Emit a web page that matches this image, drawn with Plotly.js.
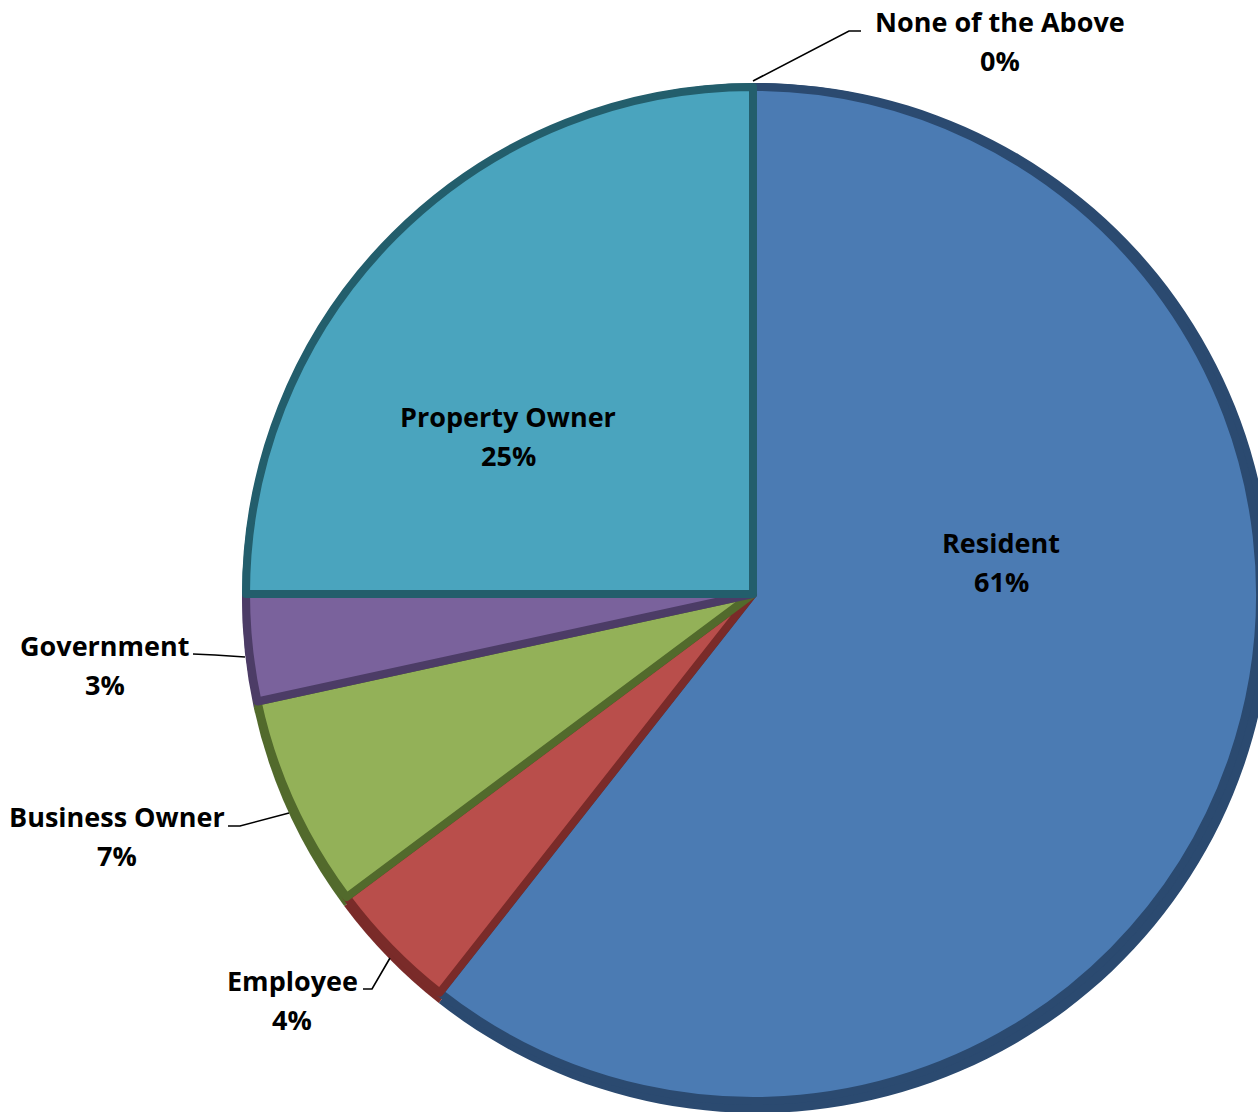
<!DOCTYPE html>
<html>
<head>
<meta charset="utf-8">
<script src="https://cdn.plot.ly/plotly-3.0.1.min.js"></script>
<style>
  html, body { margin: 0; padding: 0; overflow: hidden; background: #ffffff; }
  #chart { width: 1290px; height: 1130px; }
</style>
</head>
<body>
<div id="chart"></div>
<script>
// ---- data ----
const categories = ["Resident", "Employee", "Business Owner", "Government", "Property Owner", "None of the Above"];
const shares = [60.6, 4.2, 6.8, 3.4, 25.0, 0.0];
const mainColors = ["#4B7BB3", "#B94E4B", "#93B158", "#7A629C", "#4AA4BE", "#F79646"];
const darkColors = ["#2B4A70", "#7A2B29", "#526A2C", "#4C3C66", "#235E6C", "#A45F25"];

// ---- layout helpers (pixel -> paper) ----
const W = 1290, H = 1130;
const fx = x => x / W;
const fy = y => 1 - y / H;

const total = shares.reduce((a, b) => a + b, 0);
const pctText = shares.map(v => Math.round(v / total * 100) + "%");

// base (dark bevel) pie: centre (757,598), r 515
const cx = 757, cy = 598, R = 515;
// face pie: shifted up-left, slightly smaller
const off = 4, r2 = 507;

const basePie = {
  type: "pie",
  labels: categories,
  values: shares,
  sort: false,
  direction: "clockwise",
  rotation: 0,
  textinfo: "none",
  hoverinfo: "skip",
  showlegend: false,
  marker: { colors: darkColors, line: { width: 0 } },
  domain: { x: [fx(cx - R), fx(cx + R)], y: [fy(cy + R), fy(cy - R)] }
};

const facePie = {
  type: "pie",
  labels: categories,
  values: shares,
  sort: false,
  direction: "clockwise",
  rotation: 0,
  textinfo: "none",
  hoverinfo: "skip",
  showlegend: false,
  marker: {
    colors: mainColors,
    line: { color: darkColors, width: shares.map(v => v > 0 ? 8 : 0) }
  },
  domain: { x: [fx(cx - off - r2), fx(cx - off + r2)], y: [fy(cy - off + r2), fy(cy - off - r2)] }
};

// label positions (pixel centres of the two text lines)
const labelPos = [
  [1001, 542],  // Resident
  [292, 980],   // Employee
  [117, 816],   // Business Owner
  [105, 645],   // Government
  [508, 416],   // Property Owner
  [1000, 22]    // None of the Above
];
const lineGap = 39;
const font = { family: "'Open Sans', sans-serif", size: 27, color: "#000000", weight: 700 };

const annotations = [];
categories.forEach((c, i) => {
  const [x, y] = labelPos[i];
  annotations.push({ xref: "paper", yref: "paper", x: fx(x), y: fy(y), text: "<b>" + c + "</b>",
    showarrow: false, xanchor: "center", yanchor: "middle", font: font });
  annotations.push({ xref: "paper", yref: "paper", x: fx(x), y: fy(y + lineGap), text: "<b>" + pctText[i] + "</b>",
    showarrow: false, xanchor: "center", yanchor: "middle", font: font });
});

// leader lines (pixel paths)
const leaders = [
  [[753, 81], [849, 31], [861, 31]],
  [[193, 654], [215, 655], [245, 657]],
  [[228, 826], [240, 826], [289, 813]],
  [[363, 989], [372, 989], [390, 958]]
];
const shapes = leaders.map(pts => ({
  type: "path",
  xref: "paper", yref: "paper",
  path: pts.map((p, k) => (k ? "L" : "M") + fx(p[0]) + "," + fy(p[1])).join(" "),
  line: { color: "#000000", width: 1.6 }
}));

const layout = {
  width: W, height: H,
  margin: { l: 0, r: 0, t: 0, b: 0 },
  paper_bgcolor: "#ffffff",
  plot_bgcolor: "#ffffff",
  showlegend: false,
  annotations: annotations,
  shapes: shapes
};

Plotly.newPlot("chart", [basePie, facePie], layout, { staticPlot: true, displayModeBar: false });
</script>
</body>
</html>
